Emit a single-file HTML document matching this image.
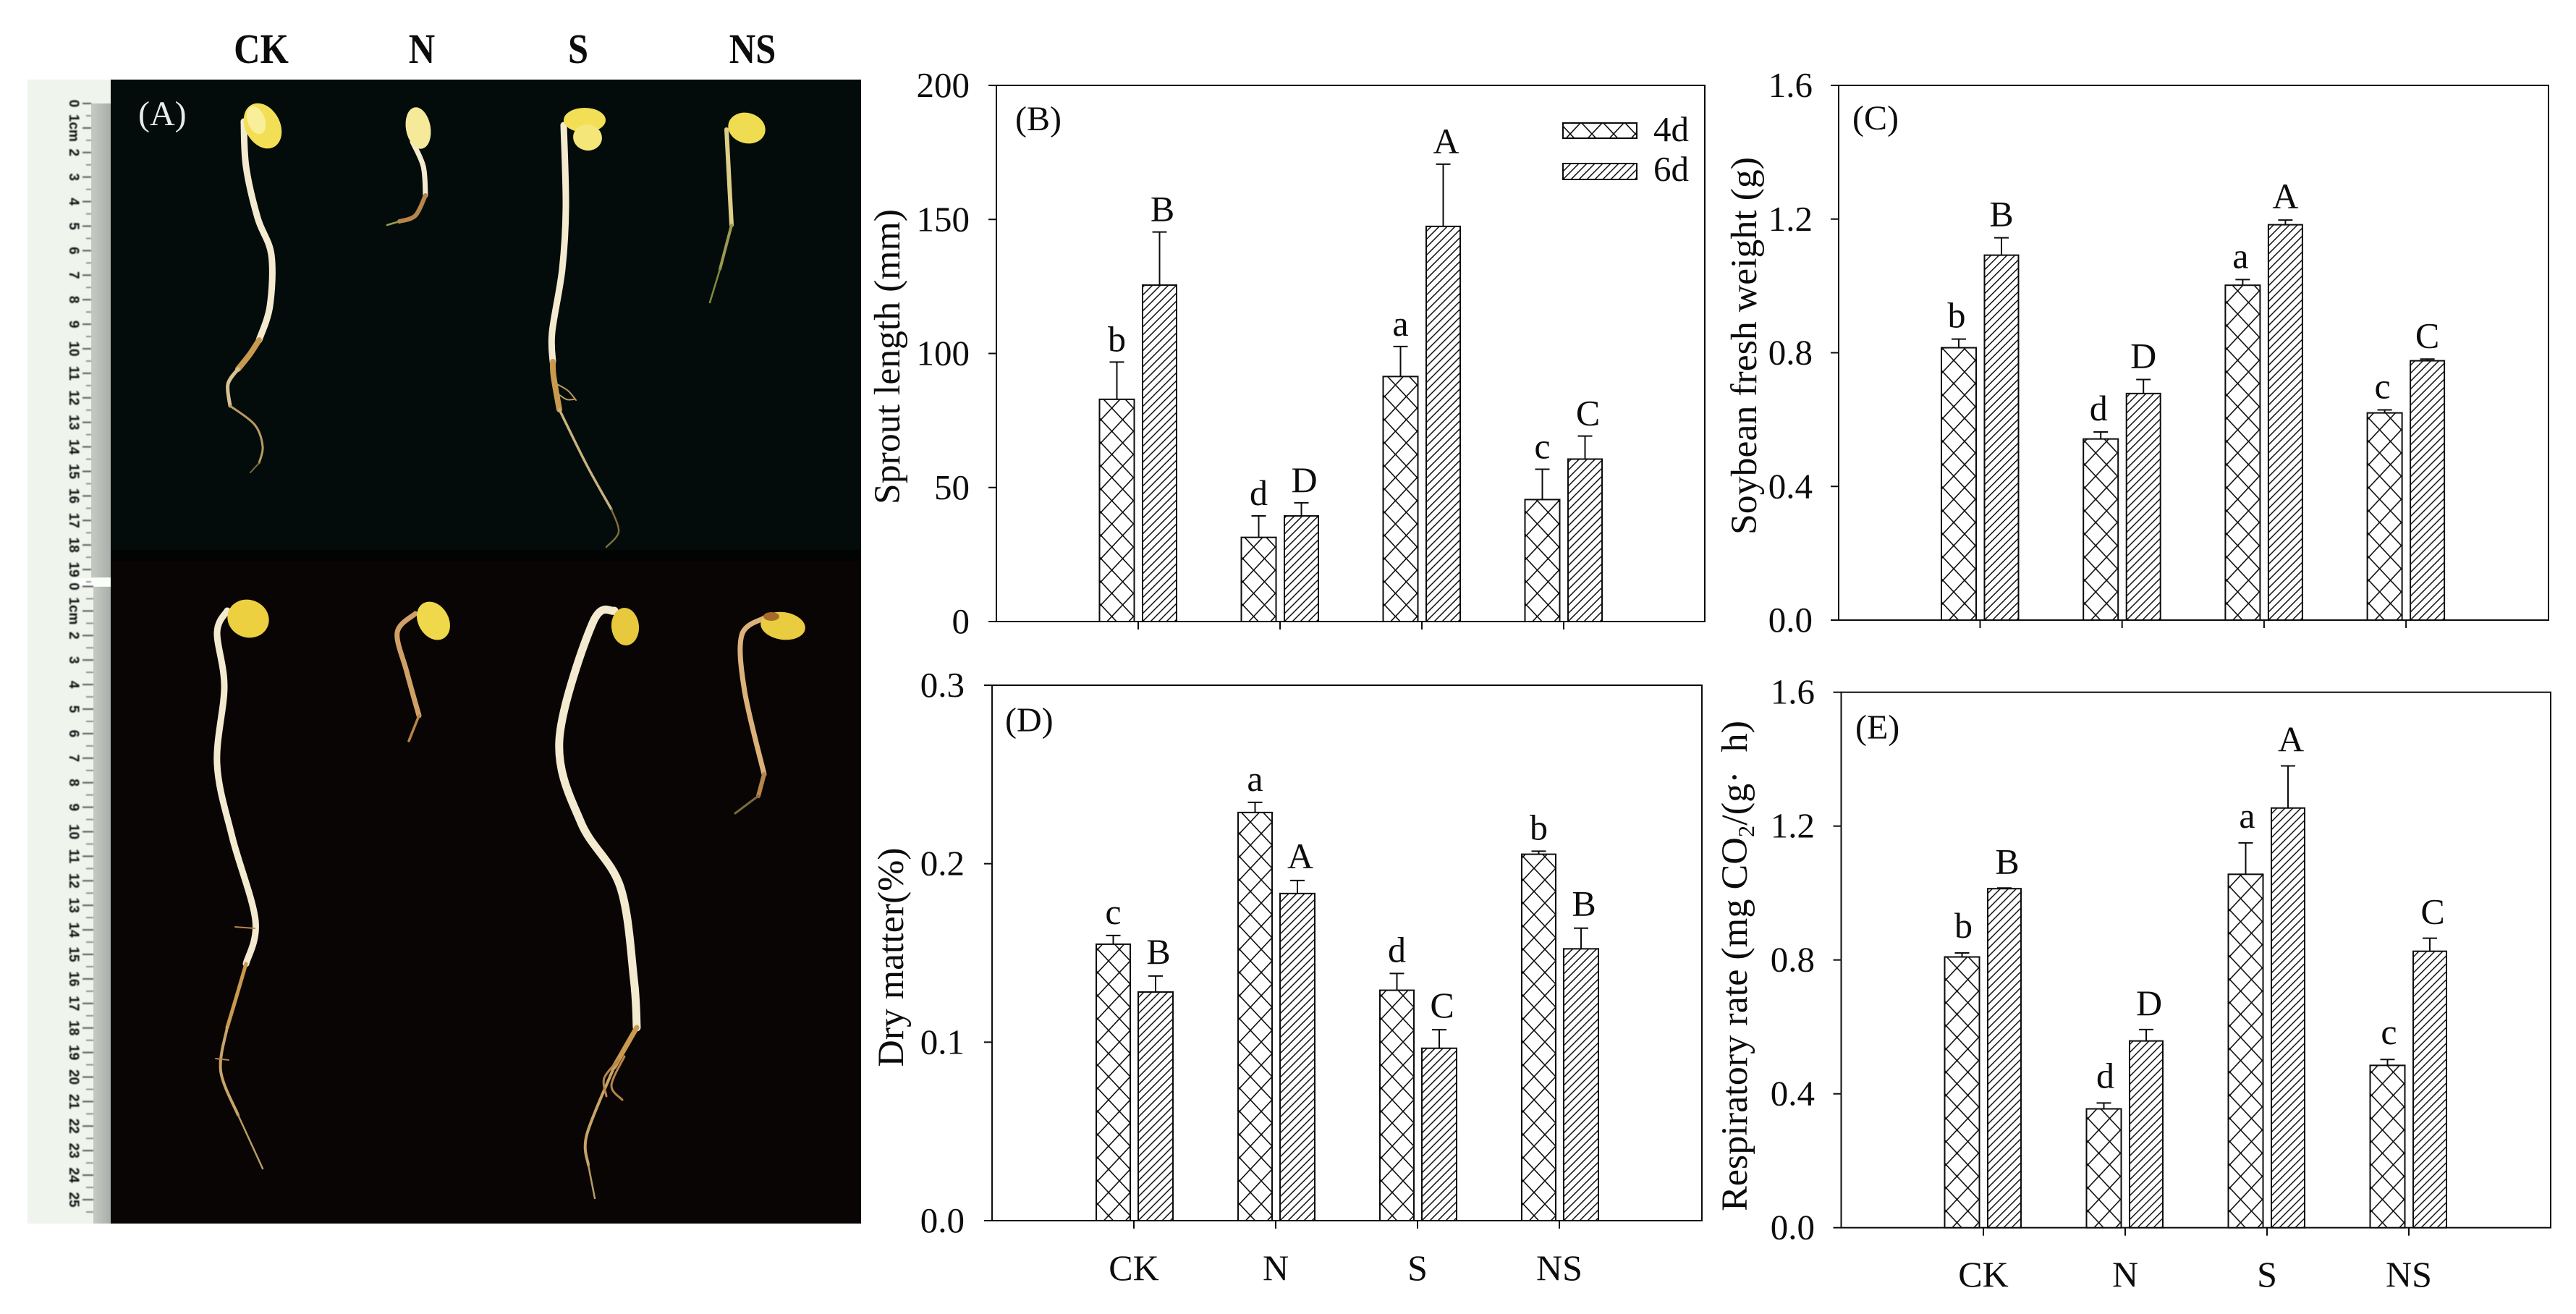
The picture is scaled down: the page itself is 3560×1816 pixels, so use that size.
<!DOCTYPE html>
<html lang="en">
<head>
<meta charset="utf-8">
<title>Soybean sprout treatments</title>
<style>
html,body{margin:0;padding:0;background:#fff;}
svg{display:block;}
text{font-family:"Liberation Serif",serif;fill:#0c0c0c;}
</style>
</head>
<body>
<svg id="fig" xmlns="http://www.w3.org/2000/svg" width="3560" height="1816" viewBox="0 0 3560 1816">
  <defs id="defs">
    <filter id="soft" x="-5%" y="-5%" width="110%" height="110%"><feGaussianBlur stdDeviation="0.7"/></filter>
    <linearGradient id="stripGrad" x1="0" x2="1" y1="0" y2="0">
      <stop offset="0" stop-color="#c6cac4"/><stop offset="1" stop-color="#a9aeaa"/>
    </linearGradient>
  </defs>
  <rect x="0" y="0" width="3560" height="1816" fill="#fff"/>

  <g id="photo">
    <rect x="38" y="110" width="115" height="1581" fill="#eff4ed"/>
    <rect x="126" y="143" width="27" height="655" fill="url(#stripGrad)"/>
    <rect x="129" y="811" width="24" height="880" fill="url(#stripGrad)"/>
    <rect x="100" y="799" width="53" height="11" fill="#fbfdfb"/>
    <g id="ruler" filter="url(#soft)"></g>
    <rect x="153" y="110" width="1037" height="650" fill="#030c0a"/>
    <rect x="153" y="760" width="1037" height="15" fill="#010402"/>
    <rect x="153" y="775" width="1037" height="916" fill="#090504"/>
    <g id="seedlings"></g>
    <text x="191" y="173" font-size="48" style="fill:#e6ecee">(A)</text>
  </g>

  <g font-weight="bold" font-size="52" text-anchor="middle">
    <text transform="translate(361 87) scale(0.97 1.12)">CK</text>
    <text transform="translate(583 87) scale(0.97 1.12)">N</text>
    <text transform="translate(799 87) scale(0.97 1.12)">S</text>
    <text transform="translate(1040 87) scale(0.97 1.12)">NS</text>
  </g>

  <text transform="translate(1243 493) rotate(-90)" font-size="51" text-anchor="middle" textLength="408" lengthAdjust="spacingAndGlyphs">Sprout length (mm)</text>
  <text transform="translate(2427 478) rotate(-90)" font-size="51" text-anchor="middle" textLength="522" lengthAdjust="spacingAndGlyphs">Soybean fresh weight (g)</text>
  <text transform="translate(1248 1323) rotate(-90)" font-size="51" text-anchor="middle" textLength="303" lengthAdjust="spacingAndGlyphs">Dry matter(%)</text>
  <text transform="translate(2414 1335) rotate(-90)" font-size="51" text-anchor="middle" textLength="678" lengthAdjust="spacingAndGlyphs">Respiratory rate (mg CO<tspan font-size="32" dy="10">2</tspan><tspan dy="-10">/(g·&#160;&#160;h)</tspan></text>

  <g id="charts"></g>
</svg>

<script>
// Chart data
const categories = ['CK', 'N', 'S', 'NS'];
const seriesNames = ['4d', '6d'];

const sproutTicks = ['0', '50', '100', '150', '200'];
const sprout4d = [82.9, 31.4, 91.4, 45.5];
const sprout6d = [125.5, 39.4, 147.4, 60.6];
const sproutErr4d = [13.9, 8.0, 11.2, 11.3];
const sproutErr6d = [19.8, 4.9, 23.2, 8.6];
const sproutLetters4d = ['b', 'd', 'a', 'c'];
const sproutLetters6d = ['B', 'D', 'A', 'C'];

const freshTicks = ['0.0', '0.4', '0.8', '1.2', '1.6'];
const fresh4d = [0.815, 0.542, 1.002, 0.62];
const fresh6d = [1.092, 0.678, 1.183, 0.776];
const freshErr4d = [0.026, 0.021, 0.017, 0.009];
const freshErr6d = [0.052, 0.042, 0.014, 0.005];
const freshLetters4d = ['b', 'd', 'a', 'c'];
const freshLetters6d = ['B', 'D', 'A', 'C'];

const dryTicks = ['0.0', '0.1', '0.2', '0.3'];
const dry4d = [0.1549, 0.2287, 0.1291, 0.2053];
const dry6d = [0.1281, 0.1833, 0.0966, 0.1523];
const dryErr4d = [0.0049, 0.0057, 0.0094, 0.0017];
const dryErr6d = [0.009, 0.0073, 0.0104, 0.0116];
const dryLetters4d = ['c', 'a', 'd', 'b'];
const dryLetters6d = ['B', 'A', 'C', 'B'];

const respTicks = ['0.0', '0.4', '0.8', '1.2', '1.6'];
const resp4d = [0.809, 0.355, 1.056, 0.485];
const resp6d = [1.013, 0.558, 1.254, 0.826];
const respErr4d = [0.012, 0.0175, 0.094, 0.0176];
const respErr6d = [0.002, 0.034, 0.126, 0.039];
const respLetters4d = ['b', 'd', 'a', 'c'];
const respLetters6d = ['B', 'D', 'A', 'C'];

const NS = 'http://www.w3.org/2000/svg';
const chartsRoot = document.getElementById('charts');
const defsRoot = document.getElementById('defs');
const INK = '#0c0c0c';

function svgEl(tag, attrs, parent) {
  const el = document.createElementNS(NS, tag);
  for (const k in attrs) el.setAttribute(k, attrs[k]);
  parent.appendChild(el);
  return el;
}

let patternCount = 0;
function crossPattern(anchorX, anchorY) {
  const id = 'cross' + (patternCount++);
  const p = svgEl('pattern', {id: id, patternUnits: 'userSpaceOnUse', x: anchorX, y: anchorY, width: 30, height: 32}, defsRoot);
  
  
  svgEl('rect', {x: 0, y: 0, width: 30, height: 32, fill: '#fff'}, p);
  svgEl('path', {d: 'M0 0L30 32M0 32L30 0', stroke: INK, 'stroke-width': 1.6, fill: 'none'}, p);
  return id;
}
function diagPattern(anchorX, anchorY) {
  const id = 'diag' + (patternCount++);
  const p = svgEl('pattern', {id: id, patternUnits: 'userSpaceOnUse', x: anchorX, y: anchorY, width: 11, height: 11}, defsRoot);
  
  
  svgEl('rect', {x: 0, y: 0, width: 11, height: 11, fill: '#fff'}, p);
  svgEl('path', {d: 'M-2 2L2 -2M0 11L11 0M9 13L13 9', stroke: INK, 'stroke-width': 1.5, fill: 'none'}, p);
  return id;
}

const FS = 49;
const LETTER_FS = 50;

function drawPanel(cfg) {
  const g = svgEl('g', {}, chartsRoot);
  
  

  const yMax = parseFloat(cfg.ticks[cfg.ticks.length - 1]);
  const yScale = v => cfg.bottom - (v / yMax) * (cfg.bottom - cfg.top);
  const xTick = i => cfg.tick0 + i * cfg.tickStep;

  const frame = svgEl('rect', {x: cfg.left, y: cfg.top, width: cfg.right - cfg.left, height: cfg.bottom - cfg.top, fill: 'none', stroke: INK, 'stroke-width': 2}, g);
  
  

  cfg.ticks.forEach(t => {
    const y = yScale(parseFloat(t));
    const tickLine = svgEl('line', {x1: cfg.left - 11, x2: cfg.left, y1: y, y2: y, stroke: INK, 'stroke-width': 2}, g);
    
    
    const lab = svgEl('text', {x: cfg.labelRight, y: y + 16, 'font-size': FS, 'text-anchor': 'end'}, g);
    
    
    lab.textContent = t;
  });

  categories.forEach((c, i) => {
    const x = xTick(i);
    const tickLine = svgEl('line', {x1: x, x2: x, y1: cfg.bottom, y2: cfg.bottom + 11, stroke: INK, 'stroke-width': 2}, g);
    
    
    if (cfg.xLabelY) {
      const lab = svgEl('text', {x: x, y: cfg.xLabelY, 'font-size': 50, 'text-anchor': 'middle'}, g);
      
      
      lab.textContent = c;
    }
  });

  const series = [
    {vals: cfg.v4, errs: cfg.e4, letters: cfg.l4, off: cfg.off4, w: cfg.w4, gap: cfg.gap4, dx: cfg.dx4, kind: 'cross', name: seriesNames[0]},
    {vals: cfg.v6, errs: cfg.e6, letters: cfg.l6, off: cfg.off6, w: cfg.w6, gap: cfg.gap6, dx: cfg.dx6, kind: 'diag', name: seriesNames[1]}
  ];
  series.forEach(s => {
    s.vals.forEach((v, i) => {
      const bx = xTick(i) + s.off;
      const by = yScale(v);
      const pid = s.kind === 'cross' ? crossPattern(bx + 17, cfg.bottom - 7) : diagPattern(bx, cfg.bottom);
      const cx = bx + s.w / 2;
      const errTop = yScale(v + s.errs[i]);

      const stem = svgEl('line', {x1: cx, x2: cx, y1: by, y2: errTop, stroke: INK, 'stroke-width': 2}, g);
      
      
      const cap = svgEl('line', {x1: cx - 10, x2: cx + 10, y1: errTop, y2: errTop, stroke: INK, 'stroke-width': 2}, g);
      
      

      const bar = svgEl('rect', {x: bx, y: by, width: s.w, height: cfg.bottom - by, fill: 'url(#' + pid + ')', stroke: INK, 'stroke-width': 2}, g);
      
      

      const lt = svgEl('text', {x: cx + s.dx, y: errTop - s.gap, 'font-size': LETTER_FS, 'text-anchor': 'middle'}, g);
      
      
      lt.textContent = s.letters[i];
    });
  });

  const tag = svgEl('text', {x: cfg.tagX, y: cfg.tagY, 'font-size': 48}, g);
  
  
  tag.textContent = cfg.tag;

  if (cfg.legend) {
    const entries = [
      {y: 170, h: 21, base: 195, pattern: crossPattern(2170, 185)},
      {y: 226, h: 22, base: 250, pattern: diagPattern(2160, 248)}
    ];
    entries.forEach((e, i) => {
      const box = svgEl('rect', {x: 2160, y: e.y, width: 102, height: e.h, fill: 'url(#' + e.pattern + ')', stroke: INK, 'stroke-width': 2}, g);
      
      
      const t = svgEl('text', {x: 2285, y: e.base, 'font-size': FS}, g);
      
      
      t.textContent = seriesNames[i];
    });
  }
}

drawPanel({id: 'b', tag: '(B)', ticks: sproutTicks, v4: sprout4d, v6: sprout6d, e4: sproutErr4d, e6: sproutErr6d, l4: sproutLetters4d, l6: sproutLetters6d,
  left: 1377, right: 2356, top: 118, bottom: 859, tick0: 1573, tickStep: 196, labelRight: 1340,
  off4: -53.5, w4: 48, off6: 6, w6: 47, gap4: 15, gap6: 15, dx4: 0, dx6: 4, tagX: 1403, tagY: 180, legend: true});

drawPanel({id: 'c', tag: '(C)', ticks: freshTicks, v4: fresh4d, v6: fresh6d, e4: freshErr4d, e6: freshErr6d, l4: freshLetters4d, l6: freshLetters6d,
  left: 2541, right: 3522, top: 118, bottom: 857, tick0: 2736.5, tickStep: 196.2, labelRight: 2505,
  off4: -53.5, w4: 48, off6: 6, w6: 47, gap4: 16, gap6: 16, dx4: -3, dx6: 0, tagX: 2560, tagY: 179});

drawPanel({id: 'd', tag: '(D)', ticks: dryTicks, v4: dry4d, v6: dry6d, e4: dryErr4d, e6: dryErr6d, l4: dryLetters4d, l6: dryLetters6d,
  left: 1371, right: 2352, top: 947, bottom: 1687, tick0: 1567, tickStep: 196, labelRight: 1333,
  off4: -52, w4: 47, off6: 6, w6: 48, gap4: 16, gap6: 17, dx4: 0, dx6: 4, tagX: 1389, tagY: 1011, xLabelY: 1769});

drawPanel({id: 'e', tag: '(E)', ticks: respTicks, v4: resp4d, v6: resp6d, e4: respErr4d, e6: respErr6d, l4: respLetters4d, l6: respLetters6d,
  left: 2544.5, right: 3525, top: 956.7, bottom: 1696.7, tick0: 2741, tickStep: 196, labelRight: 2508,
  off4: -53.5, w4: 48, off6: 6, w6: 46, gap4: 21, gap6: 20, dx4: 2, dx6: 4, tagX: 2564, tagY: 1021, xLabelY: 1778});
</script>

<script>
// Photo illustration: ruler and seedlings
(function () {
  const NS = 'http://www.w3.org/2000/svg';
  const ruler = document.getElementById('ruler');

  function rulerRun(startY, count, stripX) {
    for (let i = 0; i <= count; i++) {
      const y = startY + i * 33.9;
      const major = document.createElementNS(NS, 'line');
      major.setAttribute('x1', 114); major.setAttribute('x2', stripX);
      major.setAttribute('y1', y); major.setAttribute('y2', y);
      major.setAttribute('stroke', '#555'); major.setAttribute('stroke-width', 2);
      
      
      ruler.appendChild(major);

      const minor = document.createElementNS(NS, 'line');
      minor.setAttribute('x1', 119); minor.setAttribute('x2', stripX);
      minor.setAttribute('y1', y + 17); minor.setAttribute('y2', y + 17);
      minor.setAttribute('stroke', '#777'); minor.setAttribute('stroke-width', 1.6);
      
      
      ruler.appendChild(minor);

      const num = document.createElementNS(NS, 'text');
      num.setAttribute('transform', 'translate(96 ' + y + ') rotate(90)');
      num.setAttribute('text-anchor', 'middle');
      num.setAttribute('font-size', 19);
      num.setAttribute('font-weight', 'bold');
      num.setAttribute('style', 'font-family:"Liberation Sans",sans-serif;fill:#111');
      
      
      num.textContent = i === 1 ? '1cm' : String(i);
      ruler.appendChild(num);
    }
  }
  rulerRun(143, 19, 126);
  rulerRun(810.5, 25, 129);

  const CREAM = '#f4ead0', TAN = '#c8994e', ROOT = '#b99a62', TIP = '#7f6c3e', OLIVE = '#9a9a50', PALE = '#dccf86', BROWN = '#b5854a';
  const seedlings = [
    {name: 'ck-4d', cots: [[363, 174, 24, 33, -28, '#f2df55'], [354, 166, 12, 20, -20, '#f9ef9a']],
     stems: [
      [CREAM, 9, [[337,168],[340,230],[356,301],[375,352],[373,423],[358,470]]],
      [TAN, 8, [[358,470],[345,490],[329,510]]],
      ['#d8c292', 5, [[329,510],[315,531],[318,561]]],
      [ROOT, 3, [[318,561],[352,587],[363,617],[358,640]]],
      [TIP, 2, [[358,640],[346,653]]]]},
    {name: 'n-4d', cots: [[578, 177, 17, 29, -10, '#f4ea9a']],
     stems: [
      [CREAM, 7, [[570,196],[585,230],[588,270]]],
      [BROWN, 6, [[588,270],[574,298],[552,306]]],
      [OLIVE, 2.5, [[552,306],[535,311]]]]},
    {name: 's-4d', cots: [[808, 166, 29, 17, 0, '#f2df55'], [812, 190, 20, 18, 10, '#f4e678']],
     stems: [
      [CREAM, 9, [[779,173],[782,286],[777,372],[763,459],[764,500]]],
      [TAN, 8, [[764,500],[765,520],[773,566]]],
      ['#c9b27e', 3.5, [[773,566],[811,643],[845,704]]],
      [TIP, 2.5, [[845,704],[855,735],[838,756]]],
      [ROOT, 2, [[770,531],[785,540],[796,553]]],
      [ROOT, 2, [[772,545],[783,552],[793,552]]]]},
    {name: 'ns-4d', cots: [[1032, 177, 26, 21, 15, '#f0dc50']],
     stems: [
      [PALE, 6, [[1004,179],[1008,255],[1011,311]]],
      [OLIVE, 4, [[1011,311],[995,372]]],
      ['#7f8c3c', 2.5, [[995,372],[981,418]]]]},
    {name: 'ck-6d', cots: [[343, 855, 29, 26, 20, '#ecd040']],
     stems: [
      [CREAM, 9, [[314,844],[300,874],[310,949],[300,1056],[321,1157],[353,1272],[340,1332]]],
      [TAN, 5, [[340,1332],[326,1380],[314,1420]]],
      ['#c7a468', 4, [[314,1420],[305,1480],[329,1541]]],
      [ROOT, 2.5, [[329,1541],[363,1615]]],
      [BROWN, 2, [[325,1281],[352,1283]]],
      [BROWN, 2, [[298,1463],[316,1465]]]]},
    {name: 'n-6d', cots: [[599, 858, 21, 28, -30, '#efd84a']],
     stems: [
      ['#d0a066', 7, [[574,848],[549,874],[562,928],[579,989]]],
      [BROWN, 3.5, [[579,989],[565,1024]]]]},
    {name: 's-6d', cots: [[864, 866, 19, 26, -5, '#e8c83c']],
     stems: [
      [CREAM, 11, [[849,844],[819,861],[773,1023],[803,1137],[857,1225],[876,1353],[880,1420]]],
      [TAN, 7, [[880,1420],[849,1474]]],
      ['#c7a468', 4, [[849,1474],[811,1568],[813,1610]]],
      [ROOT, 2.5, [[813,1610],[822,1656]]],
      [BROWN, 3, [[863,1460],[845,1500],[860,1520]]],
      [BROWN, 3, [[855,1465],[835,1490],[838,1515]]]]},
    {name: 'ns-6d', cots: [[1082, 865, 31, 19, 8, '#e9cc40'], [1066, 852, 11, 6, 0, '#a86a2c']],
     stems: [
      ['#dcb27a', 7, [[1056,854],[1025,878],[1029,955],[1056,1070]]],
      [BROWN, 6, [[1056,1070],[1048,1100]]],
      ['#7a6a3a', 3, [[1048,1100],[1016,1124]]]]}
  ];

  function smooth(p) {
    let d = 'M' + p[0][0] + ' ' + p[0][1];
    for (let i = 0; i < p.length - 1; i++) {
      const a = p[Math.max(i - 1, 0)], b = p[i], c = p[i + 1], e = p[Math.min(i + 2, p.length - 1)];
      d += 'C' + (b[0] + (c[0] - a[0]) / 6) + ' ' + (b[1] + (c[1] - a[1]) / 6) + ' ' +
           (c[0] - (e[0] - b[0]) / 6) + ' ' + (c[1] - (e[1] - b[1]) / 6) + ' ' + c[0] + ' ' + c[1];
    }
    return d;
  }

  const root = document.getElementById('seedlings');
  seedlings.forEach(s => {
    const g = document.createElementNS(NS, 'g');
    
    
    root.appendChild(g);
    s.stems.forEach(seg => {
      const path = document.createElementNS(NS, 'path');
      path.setAttribute('d', smooth(seg[2]));
      path.setAttribute('fill', 'none');
      path.setAttribute('stroke', seg[0]);
      path.setAttribute('stroke-width', seg[1]);
      path.setAttribute('stroke-linecap', 'round');
      
      
      g.appendChild(path);
    });
    s.cots.forEach(c => {
      const el = document.createElementNS(NS, 'ellipse');
      el.setAttribute('cx', c[0]);
      el.setAttribute('cy', c[1]);
      el.setAttribute('rx', c[2]);
      el.setAttribute('ry', c[3]);
      el.setAttribute('transform', 'rotate(' + c[4] + ' ' + c[0] + ' ' + c[1] + ')');
      el.setAttribute('fill', c[5]);
      
      
      g.appendChild(el);
    });
  });
})();
</script>
</body>
</html>
